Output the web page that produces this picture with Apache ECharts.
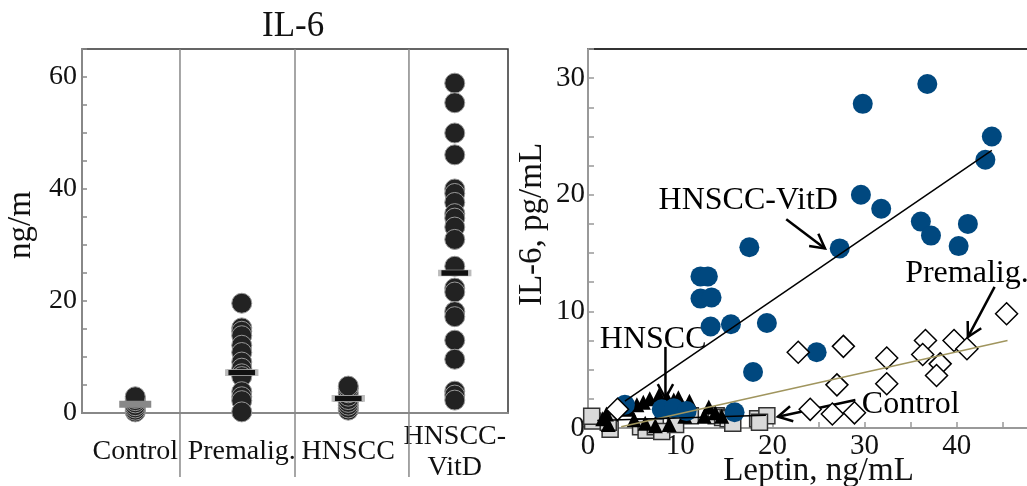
<!DOCTYPE html>
<html>
<head>
<meta charset="utf-8">
<script src="https://cdn.jsdelivr.net/npm/echarts@6/dist/echarts.min.js"></script>
<style>
  html, body { margin: 0; padding: 0; background: #fff; }
  #main { width: 1027px; height: 486px; }
</style>
</head>
<body>
<div id="main"></div>
<script>
const FONT = '"Liberation Serif", "Times New Roman", serif';

// 左图：IL-6 各组点图
const groups = ['Control', 'Premalig.', 'HNSCC', 'HNSCC-\nVitD'];
const controlVals = [0.2, 0.5, 0.9, 1.3, 1.8, 2.2, 2.6, 2.9];
const premaligVals = [19.6, 15.2, 14.6, 13.8, 12.1, 10.8, 9.1, 8.0, 7.0, 6.5, 3.8, 2.9, 2.2, 0.2];
const hnsccVals = [0.5, 0.9, 1.4, 1.9, 2.4, 3.0, 3.6, 4.4, 4.8];
const vitdVals = [58.9, 55.4, 50.0, 46.1, 40.0, 39.2, 37.6, 35.6, 34.8, 33.2, 31.0, 26.2, 22.3, 21.6, 18.1, 17.2, 13.0, 9.6, 3.9, 3.2, 2.3];
const groupMeans = [1.55, 7.2, 2.6, 25.0];
const separatorsX = [1.42, 2.5, 3.57];

// 右图：Leptin vs IL-6
const vitdPts = [[4.0, 2.0], [12.2, 13.0], [13.0, 13.0], [12.2, 11.1], [13.4, 11.2], [13.3, 8.7], [15.5, 8.9],
  [17.5, 15.5], [19.4, 9.0], [17.9, 4.8], [24.8, 6.5], [27.3, 15.4], [29.6, 20.0], [29.8, 27.8], [31.8, 18.8],
  [36.1, 17.7], [36.8, 29.5], [37.2, 16.5], [40.2, 15.6], [41.2, 17.5], [43.1, 23.0], [43.8, 25.0],
  [8.0, 1.6], [9.3, 1.7], [10.7, 1.45], [15.9, 1.35]];
const premaligPts = [[22.8, 6.5], [27.7, 7.0], [27.0, 3.7], [24.1, 1.6], [26.5, 1.2], [28.9, 1.3], [32.4, 6.0],
  [32.4, 3.8], [36.6, 7.5], [36.3, 6.3], [38.2, 5.5], [37.8, 4.5], [39.7, 7.5], [41.1, 6.8], [45.4, 9.8], [3.2, 1.6]];
const hnsccPts = [[1.6, 0.8], [2.2, 0.3], [2.0, 1.2], [4.4, 1.6], [5.3, 2.0], [6.0, 2.2], [6.7, 2.5], [7.7, 2.8],
  [8.6, 2.5], [9.3, 2.4], [9.8, 2.6], [8.0, 1.5], [6.2, 0.4], [7.3, 0.2], [8.8, 0.3], [10.5, 1.0], [12.6, 1.0],
  [13.1, 1.8], [13.8, 1.3], [14.5, 1.0], [10.2, 1.9], [11.0, 2.3], [5.0, 0.7]];
const controlPts = [[0.5, 0.6], [0.4, 1.0], [2.4, -0.1], [2.2, 0.5], [5.7, 0.1], [6.3, -0.2], [7.3, 0.1], [8.0, -0.3],
  [11.1, 1.05], [13.9, 1.05], [14.6, 0.9], [15.2, 0.8], [15.7, 0.4], [18.4, 0.8], [19.4, 1.05], [18.6, 0.5], [9.5, 0.3]];
const fitVitD = [[4.0, 2.3], [43.8, 23.8]];
const fitPremalig = [[3.6, 0.1], [45.5, 7.5]];
const fitControl = [[1.0, 0.65], [19.3, 1.1]];
const noteTexts = ['HNSCC-VitD', 'Premalig.', 'HNSCC', 'Control'];
const notePos = [[7.65, 19.5], [34.4, 13.25], [1.28, 7.6], [29.7, 2.05]];
const arrowFrom = [[21.5, 17.9], [44.1, 12.1], [8.4, 6.95], [29.0, 2.4]];
const arrowTo = [[25.7, 15.4], [41.2, 7.8], [8.4, 2.55], [20.6, 0.97]];

const chart = echarts.init(document.getElementById('main'));

const groupData = [controlVals, premaligVals, hnsccVals, vitdVals];
const dotData = [];
groupData.forEach((vals, i) => vals.forEach(v => dotData.push([i + 1, v])));

function renderArrow(params, api) {
  const p0 = api.coord([api.value(0), api.value(1)]);
  const p1 = api.coord([api.value(2), api.value(3)]);
  const a = Math.atan2(p1[1] - p0[1], p1[0] - p0[0]);
  const L = 16, th = 0.5;
  const h1 = [p1[0] - L * Math.cos(a - th), p1[1] - L * Math.sin(a - th)];
  const h2 = [p1[0] - L * Math.cos(a + th), p1[1] - L * Math.sin(a + th)];
  const st = { stroke: '#000', lineWidth: 2.5, fill: null };
  return {
    type: 'group',
    children: [
      { type: 'line', shape: { x1: p0[0], y1: p0[1], x2: p1[0], y2: p1[1] }, style: st },
      { type: 'polyline', shape: { points: [h1, p1, h2] }, style: st }
    ]
  };
}

const option = {
  animation: false,
  title: {
    text: 'IL-6', left: 262, top: 9, padding: 0,
    textStyle: { fontFamily: FONT, fontSize: 35, fontWeight: 'normal', color: '#111' }
  },
  grid: [
    { left: 82, right: 519, top: 49, bottom: 73, outerBoundsMode: 'none',
      show: true, borderColor: '#333', borderWidth: 1.5 },
    { left: 588, right: -22, top: 49, bottom: 58, outerBoundsMode: 'none',
      show: true, borderColor: '#333', borderWidth: 2 }
  ],
  xAxis: [
    { gridIndex: 0, type: 'value', min: 0.5, max: 4.5, axisLabel: { show: false }, axisTick: { show: false },
      splitLine: { show: false }, axisLine: { lineStyle: { color: '#888', width: 2 } } },
    { gridIndex: 0, type: 'category', data: groups, position: 'bottom', axisLine: { show: false },
      axisTick: { show: false },
      axisLabel: { interval: 0, fontFamily: FONT, fontSize: 28, color: '#111', margin: 39,
        verticalAlign: 'middle', lineHeight: 31 } },
    { gridIndex: 1, type: 'value', min: 0, max: 50, interval: 5, splitLine: { show: false },
      name: 'Leptin, ng/mL', nameLocation: 'middle', nameGap: 27, nameMoveOverlap: false,
      nameTextStyle: { fontFamily: FONT, fontSize: 33, color: '#111' },
      axisLine: { onZero: false, lineStyle: { color: '#999', width: 2 } },
      axisTick: { inside: true, length: 6, lineStyle: { color: '#999', width: 1.5 } },
      axisLabel: { fontFamily: FONT, fontSize: 29, color: '#111', margin: 4,
        formatter: v => (v % 10 === 0 ? String(v) : '') } }
  ],
  yAxis: [
    { gridIndex: 0, type: 'value', min: 0, max: 65, interval: 5, splitLine: { show: false },
      name: 'ng/m', nameLocation: 'middle', nameGap: 44, nameMoveOverlap: false,
      nameTextStyle: { fontFamily: FONT, fontSize: 33, color: '#111', padding: [0, 0, 0, 12] },
      axisLine: { lineStyle: { color: '#888', width: 2 } },
      axisTick: { inside: true, length: 5, lineStyle: { color: '#888', width: 1.5 } },
      axisLabel: { fontFamily: FONT, fontSize: 28, color: '#111', margin: 5,
        formatter: v => (v % 20 === 0 ? String(v) : '') } },
    { gridIndex: 1, type: 'value', min: 0, max: 32.5, interval: 2.5, splitLine: { show: false },
      name: 'IL-6, pg/mL', nameLocation: 'middle', nameGap: 39, nameMoveOverlap: false,
      nameTextStyle: { fontFamily: FONT, fontSize: 33, color: '#111', padding: [0, 0, 0, 28] },
      axisLine: { onZero: false, lineStyle: { color: '#999', width: 2 } },
      axisTick: { inside: true, length: 6, lineStyle: { color: '#999', width: 1.5 } },
      axisLabel: { fontFamily: FONT, fontSize: 29, color: '#111', margin: 3,
        formatter: v => (v % 10 === 0 ? String(v) : '') } }
  ],
  series: [
    // 分隔线
    { type: 'custom', xAxisIndex: 0, yAxisIndex: 0, clip: false, silent: true,
      data: separatorsX.map(x => [x, 0]),
      renderItem: (params, api) => {
        const top = api.coord([api.value(0), 65]);
        const bot = api.coord([api.value(0), 0]);
        return { type: 'line', shape: { x1: top[0], y1: top[1], x2: bot[0], y2: bot[1] + 64 },
          style: { stroke: '#888', lineWidth: 1.5 } };
      } },
    { type: 'scatter', xAxisIndex: 0, yAxisIndex: 0, clip: false, data: dotData, symbolSize: 20,
      itemStyle: { color: '#222', borderColor: '#999', borderWidth: 1, opacity: 1 } },
    { type: 'scatter', xAxisIndex: 0, yAxisIndex: 0, clip: false, symbol: 'rect',
      data: groupMeans.map((m, i) => ({
        value: [i + 1, m],
        symbolSize: i === 0 ? [32, 7] : [30, 6],
        itemStyle: i === 0 ? { color: '#888', opacity: 1 }
          : { color: '#111', borderColor: '#bbb', borderWidth: 1.5, opacity: 1 }
      })) },
    // 右图
    { type: 'scatter', xAxisIndex: 2, yAxisIndex: 1, clip: false, data: controlPts, symbol: 'rect', symbolSize: 16,
      itemStyle: { color: '#d9d9d9', borderColor: '#333', borderWidth: 1.5, opacity: 1 } },
    { type: 'scatter', xAxisIndex: 2, yAxisIndex: 1, clip: false, data: hnsccPts, symbol: 'triangle', symbolSize: 15,
      itemStyle: { color: '#000', opacity: 1 } },
    { type: 'scatter', xAxisIndex: 2, yAxisIndex: 1, clip: false, data: vitdPts, symbolSize: 20,
      itemStyle: { color: '#00487f', opacity: 1 } },
    { type: 'scatter', xAxisIndex: 2, yAxisIndex: 1, clip: false, data: premaligPts, symbol: 'diamond', symbolSize: 22,
      itemStyle: { color: '#fff', borderColor: '#000', borderWidth: 1.5, opacity: 1 } },
    { type: 'line', xAxisIndex: 2, yAxisIndex: 1, data: fitVitD, symbol: 'none', lineStyle: { color: '#000', width: 1.5 } },
    { type: 'line', xAxisIndex: 2, yAxisIndex: 1, data: fitPremalig, symbol: 'none', lineStyle: { color: '#a0955e', width: 1.5 } },
    { type: 'line', xAxisIndex: 2, yAxisIndex: 1, data: fitControl, symbol: 'none', lineStyle: { color: '#000', width: 1.5 } },
    { type: 'custom', xAxisIndex: 2, yAxisIndex: 1, clip: false, silent: true,
      data: arrowFrom.map((f, i) => [f[0], f[1], arrowTo[i][0], arrowTo[i][1]]),
      encode: { x: [0, 2], y: [1, 3] },
      renderItem: renderArrow },
    { type: 'custom', xAxisIndex: 2, yAxisIndex: 1, clip: false, silent: true,
      data: notePos,
      renderItem: (params, api) => {
        const p = api.coord([api.value(0), api.value(1)]);
        return { type: 'text', x: p[0], y: p[1],
          style: { text: noteTexts[params.dataIndex], fontFamily: FONT, fontSize: 32, fill: '#000',
            align: 'left', verticalAlign: 'middle' } };
      } }
  ]
};

chart.setOption(option);
</script>
</body>
</html>
